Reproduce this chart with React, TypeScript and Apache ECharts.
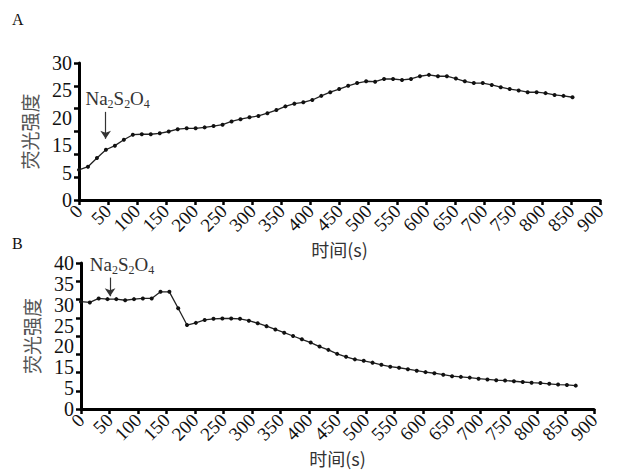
import React, { useEffect, useRef } from "react";
import * as echarts from "echarts";

// Panel A: time (s) and fluorescence intensity
const timeA = [0, 15.5, 31, 46.5, 62, 77.5, 93, 108.5, 124, 139.5, 155, 170.5, 186, 201.5, 217, 232.5, 248, 263.5, 279, 294.5, 310, 325.5, 341, 356.5, 372, 387.5, 403, 418.5, 434, 449.5, 465, 480.5, 496, 511.5, 527, 542.5, 558, 573.5, 589, 604.5, 620, 635.5, 651, 666.5, 682, 697.5, 713, 728.5, 744, 759.5, 775, 790.5, 806, 821.5, 837, 852.5];
const valuesA = [6.6, 7.3, 9.2, 11.0, 11.9, 13.2, 14.3, 14.4, 14.4, 14.6, 15.0, 15.5, 15.7, 15.7, 15.9, 16.2, 16.5, 17.2, 17.7, 18.1, 18.4, 19.0, 19.7, 20.5, 21.1, 21.4, 21.9, 22.8, 23.6, 24.3, 25.0, 25.6, 26.0, 25.9, 26.5, 26.5, 26.3, 26.5, 27.1, 27.4, 27.1, 27.1, 26.6, 26.0, 25.6, 25.6, 25.2, 24.7, 24.3, 24.0, 23.6, 23.6, 23.4, 23.0, 22.8, 22.5];

// Panel B
const timeB = [0, 15.5, 31, 46.5, 62, 77.5, 93, 108.5, 124, 139.5, 155, 170.5, 186, 201.5, 217, 232.5, 248, 263.5, 279, 294.5, 310, 325.5, 341, 356.5, 372, 387.5, 403, 418.5, 434, 449.5, 465, 480.5, 496, 511.5, 527, 542.5, 558, 573.5, 589, 604.5, 620, 635.5, 651, 666.5, 682, 697.5, 713, 728.5, 744, 759.5, 775, 790.5, 806, 821.5, 837, 852.5, 868];
const valuesB = [29.4, 29.2, 30.3, 30.1, 30.1, 29.8, 30.1, 30.3, 30.3, 32.1, 32.1, 27.6, 23.0, 23.6, 24.4, 24.7, 24.8, 24.8, 24.7, 24.2, 23.5, 22.7, 21.8, 20.9, 20.0, 19.1, 18.2, 17.1, 16.2, 15.1, 14.3, 13.6, 13.2, 12.7, 12.1, 11.6, 11.3, 10.9, 10.5, 10.1, 9.8, 9.4, 9.0, 8.8, 8.6, 8.3, 8.1, 7.9, 7.8, 7.6, 7.4, 7.2, 7.1, 6.9, 6.7, 6.6, 6.4];

// Tick labels as printed (evenly spaced along the y axis)
const yLabelsA = ["0", "5", "15", "20", "25", "30"];
const yLabelsB = ["0", "5", "15", "20", "25", "30", "35", "40"];
const xMax = 900;
const xStep = 50;
const yMaxA = 30;
const yMaxB = 40;
const yStep = 5;

// Na2S2O4 arrows: [time, from value, to value]
const arrowA = [46, 19.3, 13.4];
const arrowB = [51, 36.0, 30.9];

const SERIF = "Liberation Serif";
const INK = "#111";

function xAxisFor(gridIndex: number, gap: number) {
  return {
    type: "value",
    gridIndex,
    min: 0,
    max: xMax,
    interval: xStep,
    name: "时间(s)",
    nameLocation: "middle",
    nameGap: gap,
    nameMoveOverlap: false,
    nameTextStyle: { fontFamily: "Noto Sans CJK SC", fontSize: 18, color: "#333" },
    axisLine: { show: true, lineStyle: { color: "#000", width: 3 } },
    axisTick: { show: true, inside: false, length: 5, lineStyle: { color: "#000", width: 2.5 } },
    axisLabel: { show: true, rotate: 45, margin: 8, fontFamily: SERIF, fontSize: 19, color: INK },
    splitLine: { show: false },
  };
}

function tickAxis(gridIndex: number, max: number) {
  return {
    type: "value",
    gridIndex,
    min: 0,
    max,
    interval: yStep,
    name: "荧光强度",
    nameLocation: "middle",
    nameRotate: 90,
    nameGap: 40,
    nameMoveOverlap: false,
    nameTextStyle: { fontFamily: "Noto Sans CJK SC", fontSize: 19, color: "#555" },
    axisLine: { show: true, lineStyle: { color: "#000", width: 3 } },
    axisTick: { show: true, inside: false, length: 5, lineStyle: { color: "#000", width: 2.5 } },
    axisLabel: { show: false },
    splitLine: { show: false },
  };
}

function labelAxis(gridIndex: number, labels: string[]) {
  return {
    type: "value",
    gridIndex,
    position: "left",
    min: 0,
    max: labels.length - 1,
    interval: 1,
    axisLine: { show: false },
    axisTick: { show: false },
    axisLabel: {
      margin: 7,
      fontFamily: SERIF,
      fontSize: 20,
      lineHeight: 18,
      color: INK,
      formatter: (v: number) => labels[Math.round(v)] ?? "",
    },
    splitLine: { show: false },
  };
}

const richSub = {
  n: { fontFamily: SERIF, fontSize: 19, color: "#333", lineHeight: 22 },
  s: { fontFamily: SERIF, fontSize: 12, color: "#333", lineHeight: 22, verticalAlign: "bottom" },
};

function arrowMark(arrow: number[]) {
  return {
    silent: true,
    symbol: ["none", "arrow"],
    symbolSize: 8,
    lineStyle: { color: "#333", width: 1.2, type: "solid" },
    label: {
      show: true,
      position: "start",
      distance: 2,
      padding: [0, 0, 0, 24],
      formatter: "{n|Na}{s|2}{n|S}{s|2}{n|O}{s|4}",
      rich: richSub,
    },
    data: [[{ coord: [arrow[0], arrow[1]] }, { coord: [arrow[0], arrow[2]] }]],
  };
}

function lineSeries(xi: number, yi: number, t: number[], v: number[], arrow: number[]) {
  return {
    type: "line",
    xAxisIndex: xi,
    yAxisIndex: yi,
    data: t.map((x, i) => [x, v[i]]),
    symbol: "circle",
    symbolSize: 4,
    showSymbol: true,
    lineStyle: { color: "#222", width: 1.3 },
    itemStyle: { color: "#111" },
    markLine: arrowMark(arrow),
  };
}

export default function App() {
  const ref = useRef<HTMLDivElement>(null);
  useEffect(() => {
    if (!ref.current) return;
    const chart = echarts.init(ref.current, undefined, { renderer: "svg" });
    chart.setOption({
      animation: false,
      backgroundColor: "#fff",
      grid: [
        { left: 79, top: 63, width: 521, height: 137 },
        { left: 81, top: 263, width: 513, height: 146 },
      ],
      xAxis: [xAxisFor(0, 40), xAxisFor(1, 40)],
      yAxis: [
        tickAxis(0, yMaxA),
        labelAxis(0, yLabelsA),
        tickAxis(1, yMaxB),
        labelAxis(1, yLabelsB),
      ],
      series: [
        lineSeries(0, 0, timeA, valuesA, arrowA),
        lineSeries(1, 2, timeB, valuesB, arrowB),
      ],
      graphic: [
        { type: "text", left: 12, top: 11, style: { text: "A", font: `16px ${SERIF}`, fill: INK } },
        { type: "text", left: 12, top: 235, style: { text: "B", font: `16px ${SERIF}`, fill: INK } },
      ],
    });
    return () => chart.dispose();
  }, []);
  return (
    <div
      ref={ref}
      style={{ position: "fixed", left: 0, top: 0, width: 618, height: 470, background: "#fff" }}
    />
  );
}
